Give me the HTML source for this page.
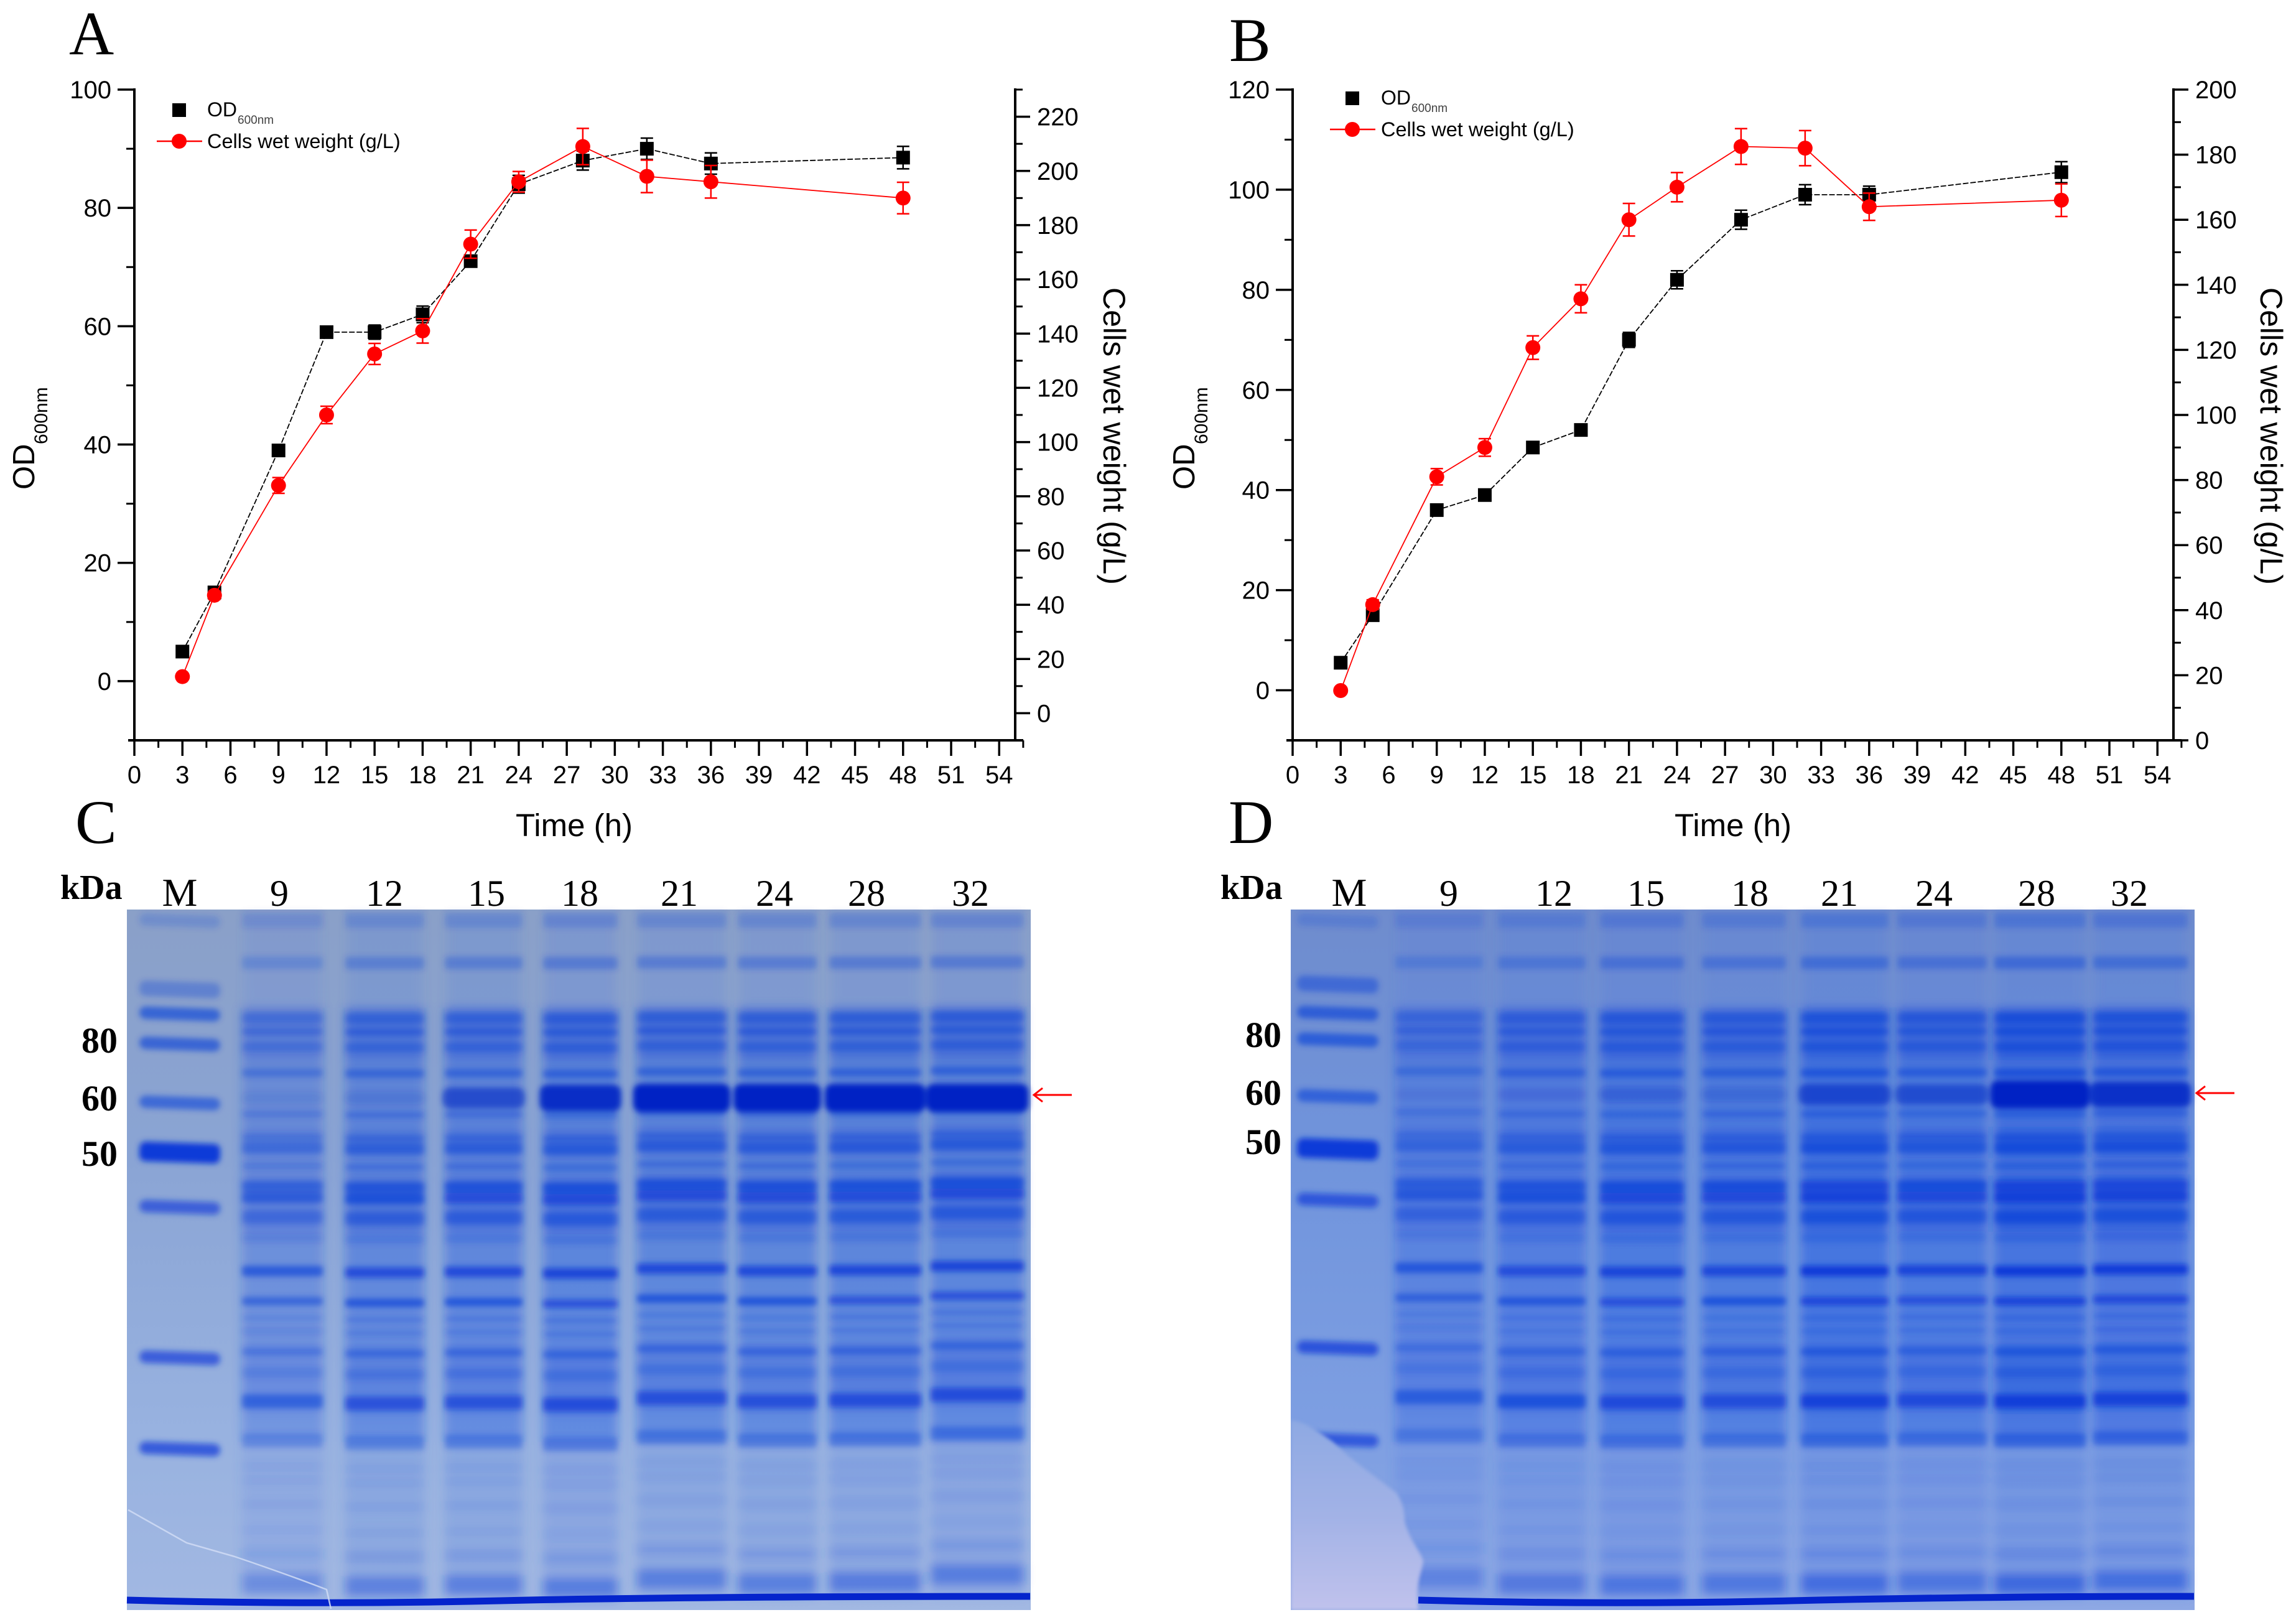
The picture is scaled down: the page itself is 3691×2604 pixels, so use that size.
<!DOCTYPE html>
<html lang="en">
<head>
<meta charset="utf-8">
<title>Fermentation growth curves and SDS-PAGE gels</title>
<style>
html,body{margin:0;padding:0;background:#fff;}
svg{display:block;}
.ax{font-family:"Liberation Sans",sans-serif;fill:#000;}
.gl{font-family:"Liberation Serif",serif;fill:#000;}
</style>
</head>
<body>
<svg id="figure" xmlns="http://www.w3.org/2000/svg" width="3691" height="2604" viewBox="0 0 3691 2604">
<defs>
<filter id="blurBand" x="-10%" y="-10%" width="120%" height="120%"><feGaussianBlur stdDeviation="4.5"/></filter>
<filter id="blurLane" x="-10%" y="-10%" width="120%" height="120%"><feGaussianBlur stdDeviation="8"/></filter>
<filter id="blurBlob" x="-10%" y="-10%" width="120%" height="120%"><feGaussianBlur stdDeviation="3"/></filter>
<linearGradient id="gelCbg" x1="0" y1="0" x2="0" y2="1">
<stop offset="0" stop-color="#8aa0c8"/><stop offset=".35" stop-color="#8aa4d4"/><stop offset=".75" stop-color="#98b2e0"/><stop offset="1" stop-color="#a2b8e2"/>
</linearGradient>
<linearGradient id="gelDbg" x1="0" y1="0" x2="0" y2="1">
<stop offset="0" stop-color="#6f8ccd"/><stop offset=".35" stop-color="#7094dc"/><stop offset=".75" stop-color="#7e9fe2"/><stop offset="1" stop-color="#8ea8e4"/>
</linearGradient>
<linearGradient id="blobFill" x1="0" y1="0" x2="0" y2="1">
<stop offset="0" stop-color="#8ea9e2"/><stop offset=".5" stop-color="#a2b2e6"/><stop offset="1" stop-color="#c0c2ec"/>
</linearGradient>
</defs>

<text class="gl" x="111" y="87" font-size="100">A</text>
<text class="gl" x="1976" y="98" font-size="100">B</text>
<text class="gl" x="121" y="1355" font-size="100">C</text>
<text class="gl" x="1975" y="1355" font-size="100">D</text>

<g id="chartA"></g>
<g id="chartB"></g>
<g id="gelC"></g>
<g id="gelD"></g>
</svg>

<script>
// ---- Chart data ----
const timeHours = [3, 5, 9, 12, 15, 18, 21, 24, 28, 32, 36, 48];
const xTickLabels = [0, 3, 6, 9, 12, 15, 18, 21, 24, 27, 30, 33, 36, 39, 42, 45, 48, 51, 54];

const odA = [5, 15, 39, 59, 59, 62, 71, 84, 88, 90, 87.5, 88.5];
const odErrA = [0.6, 0.7, 0.8, 0.8, 1.2, 1.4, 1, 1.5, 1.6, 1.8, 1.8, 1.9];
const weightA = [13.5, 43.5, 84, 110, 132.5, 141, 173, 196, 209, 198, 196, 190];
const weightErrA = [1, 1.5, 2.9, 3.2, 3.9, 4.5, 5.2, 3.8, 6.7, 6, 6, 5.8];
const leftTicksA = [0, 20, 40, 60, 80, 100];
const rightTicksA = [0, 20, 40, 60, 80, 100, 120, 140, 160, 180, 200, 220];

const odB = [5.5, 15, 36, 39, 48.5, 52, 70, 82, 94, 99, 99, 103.5];
const odErrB = [0.5, 0.7, 0.8, 0.8, 1, 1, 1.5, 1.8, 1.9, 2, 1.7, 2.1];
const weightB = [15.3, 41.7, 81, 90, 120.7, 135.7, 160, 170, 182.5, 182, 164, 166];
const weightErrB = [1, 1.5, 2.5, 2.7, 3.6, 4.3, 5, 4.5, 5.5, 5.4, 4.2, 5];
const leftTicksB = [0, 20, 40, 60, 80, 100, 120];
const rightTicksB = [0, 20, 40, 60, 80, 100, 120, 140, 160, 180, 200];

// ---- Gel data: band migration (% of gel height), thickness (% of gel height), base stain ----
const bandMigration = [1.5, 7.6, 15.5, 17.4, 19.6, 23.3, 29.2, 32.5, 34, 36.6, 39.5, 41.1, 43.9, 46.9, 51.6, 55.9, 58.3, 60.2, 63.1, 66.1, 70.2, 75.8, 79.4, 81.6, 84.9, 88.6, 92, 96.2];
const bandThickness = [2.2, 1.8, 1.5, 1.1, 1.3, 1.2, 1, 1, 1.6, 1, 1.5, 1.5, 1.8, 1.2, 1.5, 1.2, 0.8, 0.8, 1.1, 1.5, 2, 2, 1.2, 1.2, 1.4, 1.4, 1.8, 3];
const bandStain = [0.2, 0.3, 0.38, 0.42, 0.36, 0.46, 0.32, 0.38, 0.5, 0.32, 0.62, 0.7, 0.44, 0.2, 0.82, 0.66, 0.22, 0.2, 0.4, 0.24, 0.72, 0.36, 0.1, 0.1, 0.1, 0.08, 0.16, 0.4];
const smearStart = [14, 31, 38, 62];
const smearEnd = [21.5, 35.5, 46, 72];
const smearStain = [0.22, 0.14, 0.24, 0.12];
const targetMigration = 26.9;
const laneNames = ["9", "12", "15", "18", "21", "24", "28", "32"];
const markerMigrationC = [1.6, 11.4, 14.9, 19.2, 27.6, 34.7, 42.5, 64, 77];
const markerStainC = [0.18, 0.3, 0.6, 0.58, 0.55, 1, 0.65, 0.68, 0.72];
const markerMigrationD = [1.6, 10.7, 14.8, 18.6, 26.7, 34.2, 41.5, 62.6, 75.7];
const markerStainD = [0.18, 0.42, 0.58, 0.6, 0.55, 1, 0.7, 0.74, 0.7];
const loadC = [0.72, 0.92, 0.95, 1.02, 0.98, 0.98, 1, 1.02];
const targetStainC = [0.1, 0.15, 0.6, 0.9, 1, 1.1, 1.15, 1.2];
const driftC = [0, 2, 1, 3, -3, 0, -1, -6];
const loadD = [0.72, 0.88, 1.02, 0.98, 1.18, 1.02, 1.28, 1.16];
const targetStainD = [0.08, 0.12, 0.26, 0.2, 0.6, 0.55, 1.0, 0.85];
const driftD = [-4, 0, 1, 0, 0, -1, 0, -2];
const mwLabelsC = ["80", "60", "50"];
const mwLabelsD = ["80", "60", "50"];

const NS = "http://www.w3.org/2000/svg";
function mk(tag, attrs, parent) {
  const e = document.createElementNS(NS, tag);
  for (const k in attrs) e.setAttribute(k, attrs[k]);
  parent.appendChild(e);
  return e;
}

// ---- Chart drawing ----
function drawChart(cfg) {
  const g = document.getElementById(cfg.id);
  const x = v => cfg.x0 + (v - 0) / 55 * (cfg.x1 - cfg.x0);
  const yL = v => cfg.yBottom - (v - cfg.leftMin) / (cfg.leftMax - cfg.leftMin) * (cfg.yBottom - cfg.yTop);
  const yR = v => cfg.yBottom - (v - cfg.rightMin) / (cfg.rightMax - cfg.rightMin) * (cfg.yBottom - cfg.yTop);

  const axisL = mk("line", {x1: cfg.x0, x2: cfg.x0, y1: cfg.yTop - 2, y2: cfg.yBottom + 2, stroke: "#000", "stroke-width": 4}, g);
  
  
  const axisR = mk("line", {x1: cfg.x1, x2: cfg.x1, y1: cfg.yTop - 2, y2: cfg.yBottom + 2, stroke: "#000", "stroke-width": 4}, g);
  
  
  const axisB = mk("line", {x1: cfg.x0 - 10, x2: cfg.x1 + 13, y1: cfg.yBottom, y2: cfg.yBottom, stroke: "#000", "stroke-width": 4}, g);
  
  

  // x ticks
  xTickLabels.forEach(t => {
    const tk = mk("line", {x1: x(t), x2: x(t), y1: cfg.yBottom, y2: cfg.yBottom + 25, stroke: "#000", "stroke-width": 3.5}, g);
    
    
    const m = mk("line", {x1: x(t + 1.5), x2: x(t + 1.5), y1: cfg.yBottom, y2: cfg.yBottom + 12, stroke: "#000", "stroke-width": 3}, g);
    
    
    const lb = mk("text", {class: "ax", x: x(t), y: 1259, "font-size": 40, "text-anchor": "middle"}, g);
    lb.textContent = t;
    
    
  });

  // left ticks
  const leftStep = cfg.leftTicks[1] - cfg.leftTicks[0];
  cfg.leftTicks.forEach(t => {
    const tk = mk("line", {x1: cfg.x0 - 27, x2: cfg.x0, y1: yL(t), y2: yL(t), stroke: "#000", "stroke-width": 3.5}, g);
    
    
    const lb = mk("text", {class: "ax", x: cfg.x0 - 37, y: yL(t) + 14, "font-size": 40, "text-anchor": "end"}, g);
    lb.textContent = t;
    
    
    if (t + leftStep / 2 <= cfg.leftMax) {
      const m = mk("line", {x1: cfg.x0 - 13, x2: cfg.x0, y1: yL(t + leftStep / 2), y2: yL(t + leftStep / 2), stroke: "#000", "stroke-width": 3}, g);
      
      
    }
  });

  // right ticks
  const rightStep = cfg.rightTicks[1] - cfg.rightTicks[0];
  cfg.rightTicks.forEach(t => {
    const tk = mk("line", {x1: cfg.x1, x2: cfg.x1 + 24, y1: yR(t), y2: yR(t), stroke: "#000", "stroke-width": 3.5}, g);
    
    
    const lb = mk("text", {class: "ax", x: cfg.x1 + 35, y: yR(t) + 14, "font-size": 40}, g);
    lb.textContent = t;
    
    
    if (t + rightStep / 2 <= cfg.rightMax) {
      const m = mk("line", {x1: cfg.x1, x2: cfg.x1 + 12, y1: yR(t + rightStep / 2), y2: yR(t + rightStep / 2), stroke: "#000", "stroke-width": 3}, g);
      
      
    }
  });

  // titles
  const xt = mk("text", {class: "ax", x: cfg.timeX, y: 1344, "font-size": 51, "text-anchor": "middle"}, g);
  xt.textContent = "Time (h)";
  
  

  const yt = mk("text", {class: "ax", transform: "translate(" + cfg.odX + ",787) rotate(-90)", "font-size": 49}, g);
  yt.textContent = "OD";
  
  
  const ys = mk("text", {class: "ax", transform: "translate(" + (cfg.odX + 21) + ",714) rotate(-90)", "font-size": 30}, g);
  ys.textContent = "600nm";
  
  

  const rt = mk("text", {class: "ax", transform: "translate(" + cfg.cellsX + ",462) rotate(90)", "font-size": 50}, g);
  rt.textContent = "Cells wet weight (g/L)";
  
  

  // series
  function series(vals, errs, yf, color, name) {
    const pts = timeHours.map((t, i) => x(t) + "," + yf(vals[i])).join(" ");
    const ln = mk("polyline", {points: pts, fill: "none", stroke: color, "stroke-width": 1.8, "stroke-dasharray": color === "#000" ? "9 3" : "none"}, g);
    
    
    timeHours.forEach((t, i) => {
      const px = x(t), top = yf(vals[i] + errs[i]), bot = yf(vals[i] - errs[i]);
      const eb = mk("path", {d: "M" + px + " " + top + "V" + bot + "M" + (px - 10) + " " + top + "h20M" + (px - 10) + " " + bot + "h20", fill: "none", stroke: color, "stroke-width": 2.5}, g);
      
      
    });
    timeHours.forEach((t, i) => {
      const px = x(t), py = yf(vals[i]);
      let mark;
      if (color === "#000") mark = mk("rect", {x: px - 11, y: py - 11, width: 22, height: 22, fill: color}, g);
      else mark = mk("circle", {cx: px, cy: py, r: 12, fill: color}, g);
      
      
    });
  }
  series(cfg.od, cfg.odErr, yL, "#000", "od600");
  series(cfg.weight, cfg.weightErr, yR, "#ff0000", "wet-weight");

  // legend
  const L = cfg.legend;
  const ls = mk("rect", {x: L.mx - 11, y: L.y1 - 11, width: 22, height: 22, fill: "#000"}, g);
  
  
  const lt1 = mk("text", {class: "ax", x: L.tx, y: L.y1 + 10, "font-size": 32}, g);
  lt1.textContent = "OD";
  
  
  const lt1s = mk("text", {class: "ax", x: L.tx + 49, y: L.y1 + 22, "font-size": 19, opacity: 0.75}, g);
  lt1s.textContent = "600nm";
  
  
  const ll = mk("line", {x1: L.mx - 36, x2: L.mx + 37, y1: L.y2, y2: L.y2, stroke: "#ff0000", "stroke-width": 2.5}, g);
  
  
  const lc = mk("circle", {cx: L.mx, cy: L.y2, r: 12, fill: "#ff0000"}, g);
  
  
  const lt2 = mk("text", {class: "ax", x: L.tx, y: L.y2 + 11, "font-size": 32.5}, g);
  lt2.textContent = "Cells wet weight (g/L)";
  
  
}

drawChart({id: "chartA", x0: 216, x1: 1632, yTop: 144, yBottom: 1190,
  leftMin: -10, leftMax: 100, rightMin: -10, rightMax: 230,
  leftTicks: leftTicksA, rightTicks: rightTicksA,
  od: odA, odErr: odErrA, weight: weightA, weightErr: weightErrA,
  timeX: 923, odX: 55, cellsX: 1774,
  legend: {mx: 288, tx: 333, y1: 177, y2: 227}});
drawChart({id: "chartB", x0: 2078, x1: 3494, yTop: 144, yBottom: 1190,
  leftMin: -10, leftMax: 120, rightMin: 0, rightMax: 200,
  leftTicks: leftTicksB, rightTicks: rightTicksB,
  od: odB, odErr: odErrB, weight: weightB, weightErr: weightErrB,
  timeX: 2786, odX: 1920, cellsX: 3634,
  legend: {mx: 2174, tx: 2220, y1: 158, y2: 208}});

// ---- Gel drawing ----
function drawGel(cfg) {
  const g = document.getElementById(cfg.id);
  const top = 1462, bottom = 2588, H = bottom - top;
  const my = m => top + m / 100 * H;
  const W = cfg.x1 - cfg.x0;

  const bg = mk("rect", {x: cfg.x0, y: top, width: W, height: H, fill: cfg.bg}, g);
  
  

  const soft = mk("g", {filter: "url(#blurLane)"}, g);
  
  
  const sharp = mk("g", {filter: "url(#blurBand)"}, g);
  
  

  cfg.lanes.forEach((lane, i) => {
    const w = lane[1] - lane[0];
    const load = cfg.load[i];
    // y position of a band in this lane, with lane drift growing toward the gel bottom
    const ly = m => my(m) + cfg.drift[i] * m / 40;

    const s1 = mk("rect", {x: lane[0] + 4, y: my(0.8), width: w - 8, height: my(14) - my(0.8), fill: "#4a78e0", opacity: 0.2 * load}, soft);
    
    
    const s2 = mk("rect", {x: lane[0], y: my(14), width: w, height: my(76) - my(14), fill: "#1d55e0", opacity: 0.42 * load}, soft);
    
    
    const s3 = mk("rect", {x: lane[0], y: my(76), width: w, height: my(98) - my(76), fill: "#4a78e0", opacity: 0.2 * load}, soft);
    
    

    smearStart.forEach((st, z) => {
      const zr = mk("rect", {x: lane[0], y: ly(st), width: w, height: my(smearEnd[z]) - my(st), fill: "#0a3ad8", opacity: Math.min(1, smearStain[z] * load)}, soft);
      
      
    });

    bandMigration.forEach((m, b) => {
      const h = bandThickness[b] / 100 * H;
      const layer = m > 78 ? soft : sharp;
      const r = mk("rect", {x: lane[0], y: ly(m) - h / 2, width: w, height: h, rx: 4, fill: "#0a3ad8", opacity: Math.min(1, bandStain[b] * load)}, layer);
      
      
    });
    const ts = cfg.target[i];
    const th = (1.4 + 2.6 * Math.min(1, ts)) / 100 * H;
    const t = mk("rect", {x: lane[0] - 6 * ts, y: my(cfg.targetM) - th / 2, width: w + 12 * ts, height: th, rx: 12, fill: "#0024c4", opacity: Math.min(1, ts)}, sharp);
    
    
  });

  // marker lane
  cfg.marker.forEach((m, i) => {
    const h = (i === 5 ? 2.8 : i === 0 ? 1.8 : i === 1 ? 2.2 : 1.8) / 100 * H;
    const mx = cfg.markerLane[0], mw = cfg.markerLane[1] - cfg.markerLane[0];
    const y = my(m);
    const b = mk("rect", {x: mx, y: y - h / 2, width: mw, height: h, rx: 10, fill: "#0a3ad8", opacity: cfg.markerStain[i],
      transform: "rotate(2 " + (mx + mw / 2) + " " + y + ")"}, sharp);
    
    
  });

  if (cfg.blob) {
    const blob = mk("path", {d: "M" + cfg.x0 + " 2283 C2100 2285 2125 2305 2142 2317 C2170 2345 2200 2365 2245 2400 C2255 2415 2258 2430 2258 2445 C2265 2475 2285 2495 2288 2510 C2285 2530 2275 2545 2280 2588 L" + cfg.x0 + " 2588 Z", fill: "url(#blobFill)", filter: "url(#blurBlob)"}, g);
    
    
    const edge = mk("rect", {x: cfg.x0 - 12, y: 2270, width: 12, height: 334, fill: "#fff"}, g);
    
    
    const edge2 = mk("rect", {x: cfg.x0 - 12, y: bottom, width: 320, height: 16, fill: "#fff"}, g);
    
    
  }

  // dye front
  const dyeStart = cfg.dyeStart;
  const dye = mk("path", {d: "M" + dyeStart + " " + (cfg.dyeY + 2) + " Q" + (dyeStart + 300) + " " + (cfg.dyeY + 10) + " " + (dyeStart + 600) + " " + (cfg.dyeY + 3) + " T" + (cfg.x1 - 1) + " " + (cfg.dyeY - 4), fill: "none", stroke: "#0524cc", "stroke-width": 11}, g);
  
  

  if (cfg.crack) {
    const c = mk("path", {d: "M206 2427 L300 2480 L377 2502 Q460 2530 525 2555 L532 2586", fill: "none", stroke: "#d0dcf4", "stroke-width": 2.5, opacity: 0.85}, g);
    
    
  }

  // labels
  const kda = mk("text", {class: "gl", x: cfg.kdaX, y: 1445, "font-size": 56, "font-weight": "bold"}, g);
  kda.textContent = "kDa";
  
  
  const ml = mk("text", {class: "gl", x: cfg.mX, y: 1456, "font-size": 64, "text-anchor": "middle"}, g);
  ml.textContent = "M";
  
  
  laneNames.forEach((n, i) => {
    const t = mk("text", {class: "gl", x: cfg.laneLabelX[i], y: 1456, "font-size": 60, "text-anchor": "middle"}, g);
    t.textContent = n;
    
    
  });
  cfg.mw.forEach((n, i) => {
    const t = mk("text", {class: "gl", x: cfg.mwX, y: cfg.mwY[i], "font-size": 58, "font-weight": "bold", "text-anchor": "middle"}, g);
    t.textContent = n;
    
    
  });

  // arrow
  const ar = mk("path", {d: "M" + (cfg.arrowX + 63) + " " + cfg.arrowY + "H" + (cfg.arrowX + 2) + "M" + (cfg.arrowX + 16) + " " + (cfg.arrowY - 11) + "L" + (cfg.arrowX + 2) + " " + cfg.arrowY + "L" + (cfg.arrowX + 16) + " " + (cfg.arrowY + 11), fill: "none", stroke: "#ff0000", "stroke-width": 3}, g);
  
  
}

drawGel({id: "gelC", x0: 204, x1: 1657, bg: "url(#gelCbg)",
  lanes: [[389,519],[555,682],[715,840],[873,993],[1024,1168],[1186,1313],[1333,1481],[1496,1646]],
  markerLane: [224,354],
  marker: markerMigrationC, markerStain: markerStainC,
  load: loadC, target: targetStainC, targetM: targetMigration, drift: driftC,
  dyeStart: 204, dyeY: 2570, crack: true, blob: false,
  kdaX: 97, mX: 289, laneLabelX: [449,618,782,932,1092,1245,1393,1560],
  mw: mwLabelsC, mwX: 160, mwY: [1692,1785,1874],
  arrowX: 1660, arrowY: 1760});
drawGel({id: "gelD", x0: 2075, x1: 3528, bg: "url(#gelDbg)",
  lanes: [[2243,2384],[2408,2549],[2572,2707],[2736,2871],[2895,3036],[3050,3194],[3206,3353],[3365,3517]],
  markerLane: [2085,2216],
  marker: markerMigrationD, markerStain: markerStainD,
  load: loadD, target: targetStainD, targetM: 26.4, drift: driftD,
  dyeStart: 2280, dyeY: 2570, crack: false, blob: true,
  kdaX: 1962, mX: 2169, laneLabelX: [2329,2498,2646,2813,2957,3109,3274,3423],
  mw: mwLabelsD, mwX: 2031, mwY: [1683,1776,1855],
  arrowX: 3529, arrowY: 1757});
</script>
</body>
</html>
